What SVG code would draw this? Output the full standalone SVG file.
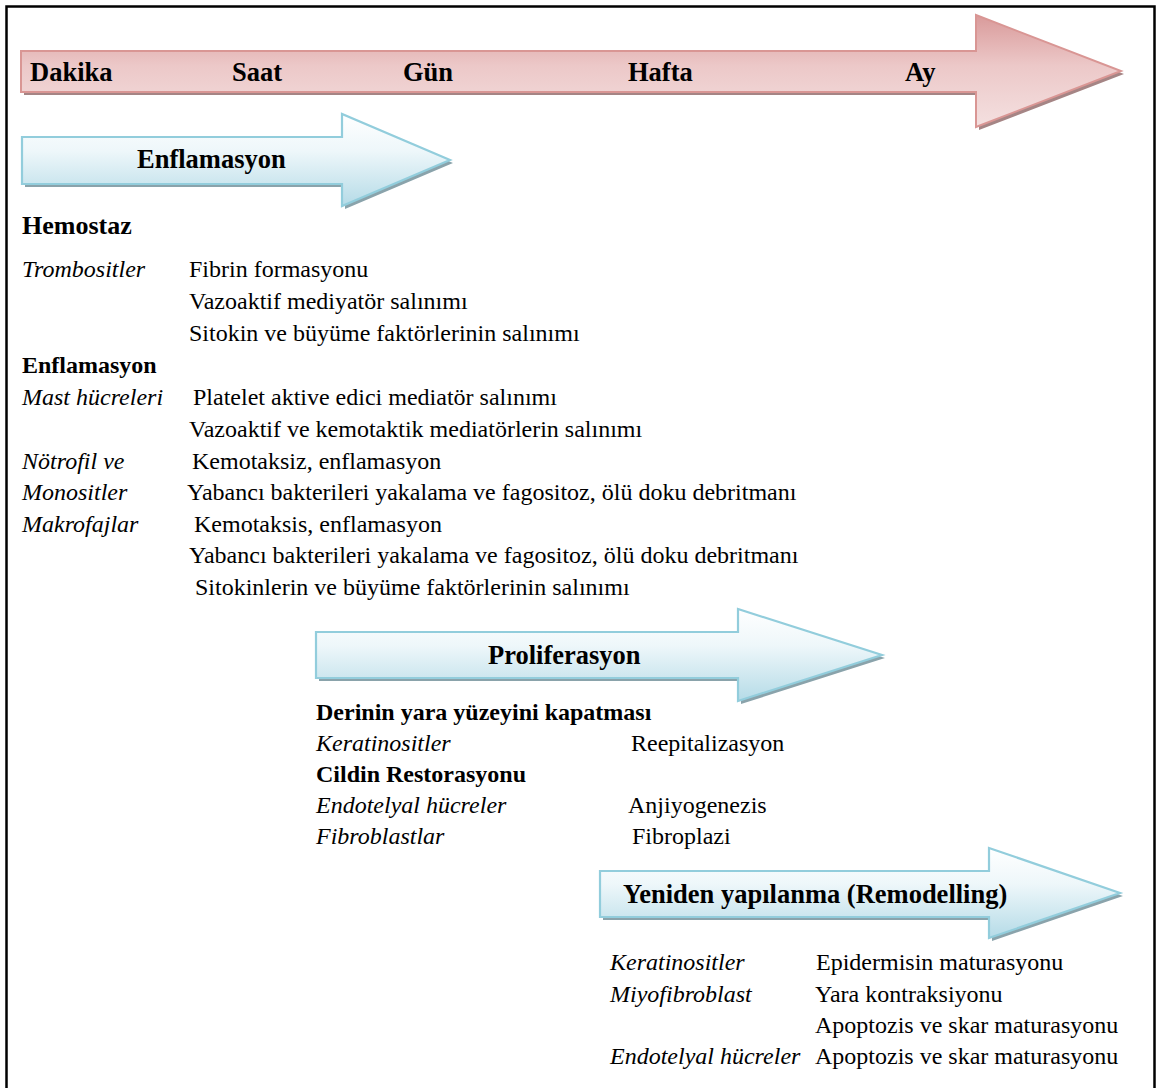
<svg xmlns="http://www.w3.org/2000/svg" width="1161" height="1088" viewBox="0 0 1161 1088">
<style>
text{font-family:"Liberation Serif","Times New Roman",serif;fill:#000}
.b{font-size:24px}
.i{font-size:24px;font-style:italic}
.h{font-size:24px;font-weight:bold}
.big{font-size:26px;font-weight:bold}
.lab{font-size:26.5px;font-weight:bold}
.pink{fill:url(#gp);stroke:#d99694;stroke-width:2}
.blue{fill:url(#gb);stroke:#92cddc;stroke-width:2.2}
.shp{fill:#a58585}
.shb{fill:#8aa3ab}
</style>
<defs>
<linearGradient id="gp" x1="0" y1="0" x2="0" y2="1">
<stop offset="0" stop-color="#d99a9a"/>
<stop offset="0.45" stop-color="#ecc8c8"/>
<stop offset="1" stop-color="#f4e0e0"/>
</linearGradient>
<linearGradient id="gb" x1="0" y1="0" x2="0" y2="1">
<stop offset="0" stop-color="#ffffff"/>
<stop offset="0.4" stop-color="#eef7fa"/>
<stop offset="1" stop-color="#b5dbe7"/>
</linearGradient>
</defs>
<rect x="0" y="0" width="1161" height="1088" fill="#fff"/>
<rect x="6.5" y="6.5" width="1148" height="1110" fill="none" stroke="#000" stroke-width="2.5"/>

<g id="timeline">
<path class="shp" transform="translate(3,3)" d="M21,51 L976,51 L976,15 L1121,71 L976,127 L976,92 L21,92 Z"/>
<path class="pink" d="M21,51 L976,51 L976,15 L1121,71 L976,127 L976,92 L21,92 Z"/>
<text class="lab" x="30" y="81">Dakika</text>
<text class="lab" x="232" y="81">Saat</text>
<text class="lab" x="403" y="81">Gün</text>
<text class="lab" x="628" y="81">Hafta</text>
<text class="lab" x="905" y="81">Ay</text>
</g>

<g id="arrow-enflamasyon">
<path class="shb" transform="translate(3,3)" d="M22,137 L342,137 L342,114 L450,160 L342,206 L342,184 L22,184 Z"/>
<path class="blue" d="M22,137 L342,137 L342,114 L450,160 L342,206 L342,184 L22,184 Z"/>
<text class="lab" x="137" y="168">Enflamasyon</text>
</g>

<g id="hemostaz">
<text class="big" x="22" y="234">Hemostaz</text>
<text class="i" x="22" y="277">Trombositler</text>
<text class="b" x="189" y="277">Fibrin formasyonu</text>
<text class="b" x="189" y="309">Vazoaktif mediyatör salınımı</text>
<text class="b" x="189" y="341">Sitokin ve büyüme faktörlerinin salınımı</text>
</g>

<g id="enflamasyon">
<text class="h" x="22" y="373">Enflamasyon</text>
<text class="i" x="22" y="405">Mast hücreleri</text>
<text class="b" x="193" y="405">Platelet aktive edici mediatör salınımı</text>
<text class="b" x="189" y="437">Vazoaktif ve kemotaktik mediatörlerin salınımı</text>
<text class="i" x="22" y="469">Nötrofil ve</text>
<text class="b" x="192" y="469">Kemotaksiz, enflamasyon</text>
<text class="i" x="22" y="500">Monositler</text>
<text class="b" x="187" y="500">Yabancı bakterileri yakalama ve fagositoz, ölü doku debritmanı</text>
<text class="i" x="22" y="532">Makrofajlar</text>
<text class="b" x="194" y="532">Kemotaksis, enflamasyon</text>
<text class="b" x="189" y="563">Yabancı bakterileri yakalama ve fagositoz, ölü doku debritmanı</text>
<text class="b" x="195" y="595">Sitokinlerin ve büyüme faktörlerinin salınımı</text>
</g>

<g id="arrow-proliferasyon">
<path class="shb" transform="translate(3,3)" d="M316,632 L738,632 L738,609 L882,655 L738,701 L738,678 L316,678 Z"/>
<path class="blue" d="M316,632 L738,632 L738,609 L882,655 L738,701 L738,678 L316,678 Z"/>
<text class="lab" x="488" y="664">Proliferasyon</text>
</g>

<g id="proliferasyon">
<text class="h" x="316" y="720">Derinin yara yüzeyini kapatması</text>
<text class="i" x="316" y="751">Keratinositler</text>
<text class="b" x="631" y="751">Reepitalizasyon</text>
<text class="h" x="316" y="782">Cildin Restorasyonu</text>
<text class="i" x="316" y="813">Endotelyal hücreler</text>
<text class="b" x="628" y="813">Anjiyogenezis</text>
<text class="i" x="316" y="844">Fibroblastlar</text>
<text class="b" x="632" y="844">Fibroplazi</text>
</g>

<g id="arrow-remodelling">
<path class="shb" transform="translate(3,3)" d="M600,871 L989,871 L989,848 L1120,893 L989,938 L989,917 L600,917 Z"/>
<path class="blue" d="M600,871 L989,871 L989,848 L1120,893 L989,938 L989,917 L600,917 Z"/>
<text class="lab" x="623" y="903">Yeniden yapılanma (Remodelling)</text>
</g>

<g id="remodelling">
<text class="i" x="610" y="970">Keratinositler</text>
<text class="b" x="816" y="970">Epidermisin maturasyonu</text>
<text class="i" x="610" y="1002">Miyofibroblast</text>
<text class="b" x="815" y="1002">Yara kontraksiyonu</text>
<text class="b" x="815" y="1033">Apoptozis ve skar maturasyonu</text>
<text class="i" x="610" y="1064">Endotelyal hücreler</text>
<text class="b" x="815" y="1064">Apoptozis ve skar maturasyonu</text>
</g>
</svg>
